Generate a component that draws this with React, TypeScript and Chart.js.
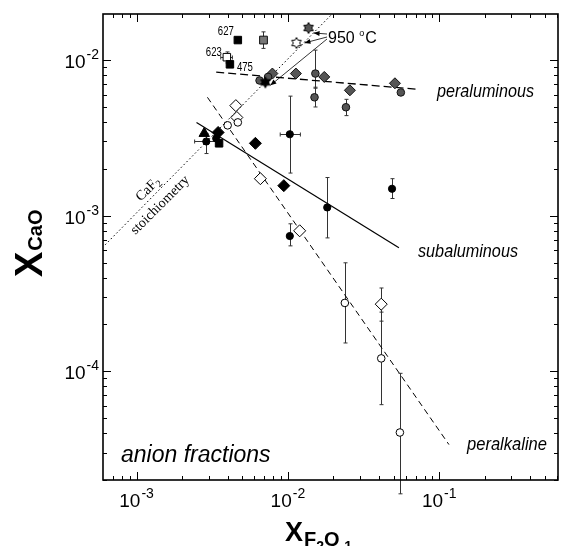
import React, { useEffect, useRef } from "react";
import { Chart, registerables } from "chart.js";

Chart.register(...registerables);

// ---------- axis ranges & tick labels ----------
const X_MIN = 6.2e-4;
const X_MAX = 0.61;
const Y_MIN = 2e-5;
const Y_MAX = 0.0198;
const xTickExponents = [-3, -2, -1];
const yTickExponents = [-4, -3, -2];

// ---------- peraluminous (dark grey symbols) ----------
const peralDiamondX = [0.0079, 0.0113, 0.0174, 0.0257, 0.051];
const peralDiamondY = [0.0082, 0.0082, 0.0078, 0.0064, 0.0071];
const peralCircleX = [0.0065, 0.0074, 0.0152, 0.015, 0.0242, 0.0558];
const peralCircleY = [0.0074, 0.0078, 0.0082, 0.00577, 0.00498, 0.0062];
const peralCircleYLow = [null, null, 0.0066, 0.005, 0.0044, null];
const peralCircleYHigh = [null, null, 0.0116, 0.0067, 0.0056, null];
const graySquareX = [0.0069];
const graySquareY = [0.01346];
const graySquareYLow = [0.0119];
const graySquareYHigh = [0.0152];

// ---------- squares with run numbers ----------
const blackSquareX = [0.00467, 0.00414, 0.00351];
const blackSquareY = [0.01346, 0.0094, 0.00292];
const openSquareX = [0.00395];
const openSquareY = [0.01045];
const openSquareXLow = [0.0036];
const openSquareXHigh = [0.0043];
const openSquareYLow = [0.0096];
const openSquareYHigh = [0.0113];
const runLabels = ["627", "475", "623"];

// ---------- subaluminous (black symbols) ----------
const blackCircleX = [0.00289, 0.00336, 0.0103, 0.0182, 0.0103, 0.0488];
const blackCircleY = [0.003, 0.00314, 0.00334, 0.00113, 0.00074, 0.00149];
const blackCircleYLow = [0.00251, null, 0.00188, 0.00072, 0.00064, 0.00129];
const blackCircleYHigh = [0.00338, null, 0.00587, 0.00176, 0.000887, 0.00173];
const blackCircleXLow = [0.00242, null, 0.0089, null, null, null];
const blackCircleXHigh = [0.00336, null, 0.0121, null, null, null];
const blackDiamondX = [0.00346, 0.0061, 0.0094];
const blackDiamondY = [0.00343, 0.00292, 0.00156];
const blackTriangleX = [0.0028];
const blackTriangleY = [0.00338];

// ---------- peralkaline (open symbols) ----------
const openDiamondX = [0.00453, 0.0046, 0.00658, 0.01197, 0.0414];
const openDiamondY = [0.0051, 0.00428, 0.00173, 0.0008, 0.00027];
const openDiamondYLow = [null, null, null, null, 0.00021];
const openDiamondYHigh = [null, null, null, null, 0.000343];
const openCircleX = [0.004, 0.00467, 0.0238, 0.0414, 0.055];
const openCircleY = [0.00381, 0.00398, 0.000275, 0.000121, 0.0000404];
const openCircleYLow = [null, null, 0.000152, 0.000061, 0.0000163];
const openCircleYHigh = [null, null, 0.000498, 0.00024, 0.000097];

// ---------- 950 °C stars ----------
const grayStarX = [0.0137];
const grayStarY = [0.0161];
const whiteStarX = [0.0114];
const whiteStarY = [0.0129];
const blackStarX = [0.0071];
const blackStarY = [0.0072];

// ---------- trend lines ----------
const peraluminousFitX = [0.00336, 0.072];
const peraluminousFitY = [0.00837, 0.0065];
const subaluminousFitX = [0.00249, 0.0542];
const subaluminousFitY = [0.00398, 0.000622];
const peralkalineFitX = [0.00294, 0.116];
const peralkalineFitY = [0.00577, 0.0000338];
const caf2LineX = [6.2e-4, 0.0196];
const caf2LineY = [6.5e-4, 0.0198];

const SANS = '"Liberation Sans", Arial, Helvetica, sans-serif';
const SERIF = '"Liberation Serif", "Times New Roman", serif';

const pts = (xs: number[], ys: number[]) => xs.map((x, i) => ({ x, y: ys[i] }));

function makeHexagram(fill: string, stroke: string, r: number) {
  const c = document.createElement("canvas");
  const s = Math.ceil(r * 2 + 3);
  c.width = s;
  c.height = s;
  const g = c.getContext("2d")!;
  const cx = s / 2;
  const cy = s / 2;
  g.beginPath();
  for (let k = 0; k < 12; k++) {
    const a = -Math.PI / 2 + (k * Math.PI) / 6;
    const rr = k % 2 === 0 ? r : r / Math.sqrt(3);
    const px = cx + Math.cos(a) * rr;
    const py = cy + Math.sin(a) * rr;
    if (k === 0) g.moveTo(px, py);
    else g.lineTo(px, py);
  }
  g.closePath();
  g.fillStyle = fill;
  g.fill();
  g.strokeStyle = stroke;
  g.lineWidth = 1;
  g.stroke();
  return c;
}

function drawPow10(ctx: any, exp: number, x: number, baseline: number, mode: string) {
  const sup = "-" + Math.abs(exp);
  ctx.font = `19px ${SANS}`;
  const wb = ctx.measureText("10").width;
  ctx.font = `14px ${SANS}`;
  const ws = ctx.measureText(sup).width;
  const total = wb + 1 + ws;
  const left = mode === "right" ? x - total : x - total / 2;
  ctx.textAlign = "left";
  ctx.textBaseline = "alphabetic";
  ctx.font = `19px ${SANS}`;
  ctx.fillText("10", left, baseline);
  ctx.font = `14px ${SANS}`;
  ctx.fillText(sup, left + wb + 1, baseline - 9);
}

function drawFitText(ctx: any, text: string, font: string, left: number, baseline: number, width: number) {
  ctx.font = font;
  const w = ctx.measureText(text).width;
  ctx.save();
  ctx.translate(left, baseline);
  ctx.scale(width / w, 1);
  ctx.textAlign = "left";
  ctx.fillText(text, 0, 0);
  ctx.restore();
}

function arrow(ctx: any, x1: number, y1: number, x2: number, y2: number) {
  ctx.beginPath();
  ctx.moveTo(x1, y1);
  ctx.lineTo(x2, y2);
  ctx.stroke();
  const a = Math.atan2(y2 - y1, x2 - x1);
  const L = 6;
  const W = 2.5;
  ctx.beginPath();
  ctx.moveTo(x2, y2);
  ctx.lineTo(x2 - L * Math.cos(a) + W * Math.sin(a), y2 - L * Math.sin(a) - W * Math.cos(a));
  ctx.lineTo(x2 - L * Math.cos(a) - W * Math.sin(a), y2 - L * Math.sin(a) + W * Math.cos(a));
  ctx.closePath();
  ctx.fill();
}

function errY(ctx: any, sx: any, sy: any, xs: number[], lo: any[], hi: any[]) {
  xs.forEach((x, i) => {
    if (lo[i] == null || hi[i] == null) return;
    const px = Math.round(sx.getPixelForValue(x)) + 0.5;
    const p1 = sy.getPixelForValue(lo[i]);
    const p2 = sy.getPixelForValue(hi[i]);
    ctx.beginPath();
    ctx.moveTo(px, p1);
    ctx.lineTo(px, p2);
    ctx.moveTo(px - 2, p1);
    ctx.lineTo(px + 2, p1);
    ctx.moveTo(px - 2, p2);
    ctx.lineTo(px + 2, p2);
    ctx.stroke();
  });
}

function errX(ctx: any, sx: any, sy: any, ys: number[], lo: any[], hi: any[]) {
  ys.forEach((y, i) => {
    if (lo[i] == null || hi[i] == null) return;
    const py = Math.round(sy.getPixelForValue(y)) + 0.5;
    const p1 = sx.getPixelForValue(lo[i]);
    const p2 = sx.getPixelForValue(hi[i]);
    ctx.beginPath();
    ctx.moveTo(p1, py);
    ctx.lineTo(p2, py);
    ctx.moveTo(p1, py - 2);
    ctx.lineTo(p1, py + 2);
    ctx.moveTo(p2, py - 2);
    ctx.lineTo(p2, py + 2);
    ctx.stroke();
  });
}

const decorPlugin = {
  id: "decor",
  beforeDatasetsDraw(chart: any) {
    const ctx = chart.ctx;
    const sx = chart.scales.x;
    const sy = chart.scales.y;
    ctx.save();
    ctx.strokeStyle = "#333";
    ctx.lineWidth = 1;
    errY(ctx, sx, sy, peralCircleX, peralCircleYLow, peralCircleYHigh);
    errY(ctx, sx, sy, graySquareX, graySquareYLow, graySquareYHigh);
    errY(ctx, sx, sy, openSquareX, openSquareYLow, openSquareYHigh);
    errX(ctx, sx, sy, openSquareY, openSquareXLow, openSquareXHigh);
    errY(ctx, sx, sy, blackCircleX, blackCircleYLow, blackCircleYHigh);
    errX(ctx, sx, sy, blackCircleY, blackCircleXLow, blackCircleXHigh);
    errY(ctx, sx, sy, openDiamondX, openDiamondYLow, openDiamondYHigh);
    errY(ctx, sx, sy, openCircleX, openCircleYLow, openCircleYHigh);
    ctx.restore();
  },
  afterDraw(chart: any) {
    const ctx = chart.ctx;
    const ca = chart.chartArea;
    const sx = chart.scales.x;
    const sy = chart.scales.y;
    ctx.save();
    ctx.fillStyle = "#000";
    ctx.strokeStyle = "#000";

    // ticks on all four sides
    ctx.lineWidth = 1;
    for (let d = -6; d <= 0; d++) {
      for (let m = 1; m <= 9; m++) {
        const v = m * Math.pow(10, d);
        const len = m === 1 ? 8 : 4;
        if (v >= X_MIN && v <= X_MAX) {
          const px = Math.round(sx.getPixelForValue(v)) + 0.5;
          ctx.beginPath();
          ctx.moveTo(px, ca.bottom);
          ctx.lineTo(px, ca.bottom - len);
          ctx.moveTo(px, ca.top);
          ctx.lineTo(px, ca.top + len);
          ctx.stroke();
        }
        if (v >= Y_MIN && v <= Y_MAX) {
          const py = Math.round(sy.getPixelForValue(v)) + 0.5;
          ctx.beginPath();
          ctx.moveTo(ca.left, py);
          ctx.lineTo(ca.left + len, py);
          ctx.moveTo(ca.right, py);
          ctx.lineTo(ca.right - len, py);
          ctx.stroke();
        }
      }
    }
    ctx.lineWidth = 1.6;
    ctx.strokeRect(ca.left, ca.top, ca.right - ca.left, ca.bottom - ca.top);

    // tick labels
    yTickExponents.forEach((e) => {
      const py = sy.getPixelForValue(Math.pow(10, e));
      drawPow10(ctx, e, ca.left - 4, py + 8, "right");
    });
    xTickExponents.forEach((e) => {
      const px = sx.getPixelForValue(Math.pow(10, e));
      drawPow10(ctx, e, px, ca.bottom + 27, "center");
    });

    // y axis title X_CaO
    ctx.save();
    ctx.translate(42, 277);
    ctx.rotate(-Math.PI / 2);
    ctx.textAlign = "left";
    ctx.font = `bold 38px ${SANS}`;
    ctx.fillText("X", 0, 0);
    const wX = ctx.measureText("X").width;
    ctx.font = `bold 20px ${SANS}`;
    ctx.fillText("CaO", wX + 1, 0);
    ctx.restore();

    // x axis title X_F2O-1
    ctx.textAlign = "left";
    let cx = 285;
    ctx.font = `bold 27px ${SANS}`;
    ctx.fillText("X", cx, 541);
    cx += ctx.measureText("X").width + 1;
    ctx.font = `bold 20px ${SANS}`;
    ctx.fillText("F", cx, 546);
    cx += ctx.measureText("F").width;
    ctx.font = `bold 14px ${SANS}`;
    ctx.fillText("2", cx, 551);
    cx += ctx.measureText("2").width;
    ctx.font = `bold 20px ${SANS}`;
    ctx.fillText("O", cx, 546);
    cx += ctx.measureText("O").width;
    ctx.font = `bold 14px ${SANS}`;
    ctx.fillText("-1", cx, 551);

    // series labels
    ctx.font = `italic 18px ${SANS}`;
    drawFitText(ctx, "peraluminous", `italic 18px ${SANS}`, 437, 97, 97);
    drawFitText(ctx, "subaluminous", `italic 18px ${SANS}`, 418, 257, 100);
    drawFitText(ctx, "peralkaline", `italic 18px ${SANS}`, 467, 450, 80);
    ctx.font = `italic 23px ${SANS}`;
    ctx.fillText("anion fractions", 121, 462);

    // run numbers
    const runPos = [
      [blackSquareX[0], blackSquareY[0], -20, -5],
      [blackSquareX[1], blackSquareY[1], 7, 7],
      [openSquareX[0], openSquareY[0], -21, -1],
    ];
    runLabels.forEach((t, i) => {
      const [vx, vy, dx, dy] = runPos[i];
      const px = sx.getPixelForValue(vx) + dx;
      const py = sy.getPixelForValue(vy) + dy;
      drawFitText(ctx, t, `12px ${SANS}`, px, py, 16);
    });

    // 950 °C label and arrows
    ctx.font = `16px ${SANS}`;
    ctx.fillText("950", 328, 43);
    let tx = 328 + ctx.measureText("950 ").width;
    ctx.font = `9px ${SANS}`;
    ctx.fillText("o", tx, 36);
    tx += ctx.measureText("o").width + 1;
    ctx.font = `16px ${SANS}`;
    ctx.fillText("C", tx, 43);
    ctx.lineWidth = 0.8;
    const gs = [sx.getPixelForValue(grayStarX[0]), sy.getPixelForValue(grayStarY[0])];
    const ws = [sx.getPixelForValue(whiteStarX[0]), sy.getPixelForValue(whiteStarY[0])];
    const bs = [sx.getPixelForValue(blackStarX[0]), sy.getPixelForValue(blackStarY[0])];
    arrow(ctx, 327, 34, gs[0] + 5, gs[1] + 5);
    arrow(ctx, 327, 37, ws[0] + 8, ws[1]);
    arrow(ctx, 327, 39, bs[0] + 5, bs[1] + 3);

    // CaF2 stoichiometry label
    const ang = -Math.PI / 4;
    ctx.save();
    ctx.translate(148, 189);
    ctx.rotate(ang);
    ctx.font = `14px ${SERIF}`;
    const wCaF = ctx.measureText("CaF").width;
    ctx.font = `10px ${SERIF}`;
    const w2 = ctx.measureText("2").width;
    const tot = wCaF + w2;
    ctx.font = `14px ${SERIF}`;
    ctx.fillText("CaF", -tot / 2, 4);
    ctx.font = `10px ${SERIF}`;
    ctx.fillText("2", -tot / 2 + wCaF, 7);
    ctx.restore();
    ctx.save();
    ctx.translate(160, 205);
    ctx.rotate(ang);
    ctx.font = `14px ${SERIF}`;
    ctx.textAlign = "center";
    ctx.fillText("stoichiometry", 0, 4);
    ctx.restore();

    ctx.restore();
  },
};

export default function App() {
  const ref = useRef<HTMLCanvasElement>(null);
  useEffect(() => {
    const canvas = ref.current!;
    const grayStar = makeHexagram("#555", "#000", 5.5);
    const whiteStar = makeHexagram("#fff", "#000", 5.5);
    const blackStar = makeHexagram("#000", "#000", 5.5);
    const gray = "#555";
    const lineBase = { showLine: true, pointRadius: 0, borderColor: "#000", order: 10, fill: false };
    const chart = new Chart(canvas, {
      type: "scatter",
      data: {
        datasets: [
          { label: "gray star", data: pts(grayStarX, grayStarY), pointStyle: grayStar as any, pointRadius: 6 },
          { label: "white star", data: pts(whiteStarX, whiteStarY), pointStyle: whiteStar as any, pointRadius: 6 },
          { label: "black star", data: pts(blackStarX, blackStarY), pointStyle: blackStar as any, pointRadius: 6 },
          { label: "open circles", data: pts(openCircleX, openCircleY), pointStyle: "circle", pointRadius: 3.8, backgroundColor: "#fff", borderColor: "#000", borderWidth: 1 },
          { label: "open diamonds", data: pts(openDiamondX, openDiamondY), pointStyle: "rectRot", pointRadius: 6, backgroundColor: "#fff", borderColor: "#000", borderWidth: 1 },
          { label: "black circles", data: pts(blackCircleX, blackCircleY), pointStyle: "circle", pointRadius: 3.6, backgroundColor: "#000", borderColor: "#000", borderWidth: 1 },
          { label: "black diamonds", data: pts(blackDiamondX, blackDiamondY), pointStyle: "rectRot", pointRadius: 6, backgroundColor: "#000", borderColor: "#000", borderWidth: 1 },
          { label: "black triangle", data: pts(blackTriangleX, blackTriangleY), pointStyle: "triangle", pointRadius: 6, backgroundColor: "#000", borderColor: "#000", borderWidth: 1 },
          { label: "black squares", data: pts(blackSquareX, blackSquareY), pointStyle: "rect", pointRadius: 5.3, backgroundColor: "#000", borderColor: "#000", borderWidth: 1 },
          { label: "open square", data: pts(openSquareX, openSquareY), pointStyle: "rect", pointRadius: 5.3, backgroundColor: "#fff", borderColor: "#000", borderWidth: 1 },
          { label: "gray square", data: pts(graySquareX, graySquareY), pointStyle: "rect", pointRadius: 5.5, backgroundColor: "#777", borderColor: "#111", borderWidth: 1 },
          { label: "peraluminous circles", data: pts(peralCircleX, peralCircleY), pointStyle: "circle", pointRadius: 3.8, backgroundColor: gray, borderColor: "#111", borderWidth: 1 },
          { label: "peraluminous diamonds", data: pts(peralDiamondX, peralDiamondY), pointStyle: "rectRot", pointRadius: 5.5, backgroundColor: gray, borderColor: "#111", borderWidth: 1 },
          { ...lineBase, label: "peraluminous fit", data: pts(peraluminousFitX, peraluminousFitY), borderWidth: 1.3, borderDash: [8, 4] },
          { ...lineBase, label: "subaluminous fit", data: pts(subaluminousFitX, subaluminousFitY), borderWidth: 1.2 },
          { ...lineBase, label: "peralkaline fit", data: pts(peralkalineFitX, peralkalineFitY), borderWidth: 1, borderDash: [6, 4] },
          { ...lineBase, label: "CaF2 stoichiometry", data: pts(caf2LineX, caf2LineY), borderWidth: 1, borderDash: [1.5, 2.5] },
        ] as any,
      },
      options: {
        responsive: false,
        animation: false,
        devicePixelRatio: 1,
        events: [],
        layout: { padding: { top: 14, right: 1, left: 0, bottom: 0 } },
        plugins: { legend: { display: false }, tooltip: { enabled: false } },
        scales: {
          x: {
            type: "logarithmic",
            min: X_MIN,
            max: X_MAX,
            grid: { display: false },
            border: { display: false },
            ticks: { display: false },
            afterFit: (s: any) => {
              s.height = 66;
            },
          },
          y: {
            type: "logarithmic",
            min: Y_MIN,
            max: Y_MAX,
            grid: { display: false },
            border: { display: false },
            ticks: { display: false },
            afterFit: (s: any) => {
              s.width = 103;
            },
          },
        },
      } as any,
      plugins: [decorPlugin],
    });
    return () => chart.destroy();
  }, []);
  return (
    <div style={{ position: "fixed", left: 0, top: 0, width: 565, height: 546, background: "#fff" }}>
      <canvas ref={ref} width={565} height={546} style={{ display: "block", width: 565, height: 546 }} />
    </div>
  );
}
